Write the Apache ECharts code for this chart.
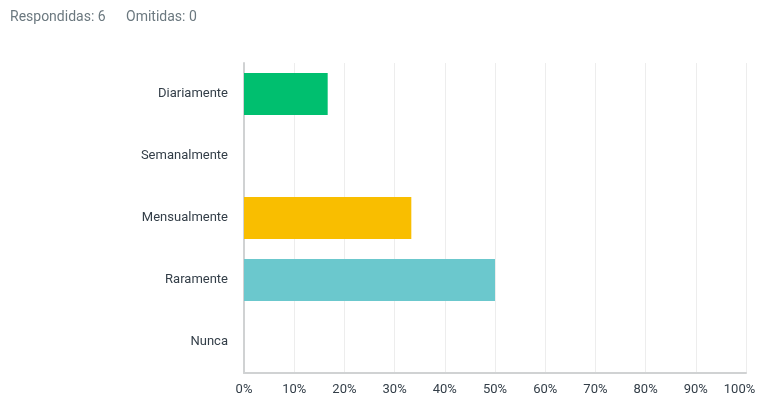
<!DOCTYPE html>
<html>
<head>
<meta charset="utf-8">
<script src="https://cdn.jsdelivr.net/npm/echarts@6/dist/echarts.min.js"></script>
<style>
html,body{margin:0;padding:0;background:#fff;}
#c{width:757px;height:396px;}
</style>
</head>
<body>
<div id="c"></div>
<script>
const categories = ['Diariamente', 'Semanalmente', 'Mensualmente', 'Raramente', 'Nunca'];
const values = [16.67, 0, 33.33, 50, 0];
const barColors = ['#00bf6f', '#00bf6f', '#f9be00', '#6bc8cd', '#6bc8cd'];
const answered = 'Respondidas: 6';
const skipped = 'Omitidas: 0';

const chart = echarts.init(document.getElementById('c'), null, {renderer: 'canvas'});
const font = 'Roboto, "Open Sans", sans-serif';
chart.setOption({
  animation: false,
  backgroundColor: '#fff',
  textStyle: {fontFamily: font},
  graphic: [
    {type: 'text', left: 10, top: 10, style: {text: answered, fill: '#6b787f', font: '14px ' + font}},
    {type: 'text', left: 126, top: 10, style: {text: skipped, fill: '#6b787f', font: '14px ' + font}}
  ],
  grid: {left: 244, right: 11, top: 63, bottom: 23, containLabel: false, outerBoundsMode: 'none'},
  xAxis: {
    type: 'value', min: 0, max: 100, interval: 10,
    axisLabel: {
      formatter: v => v === 100 ? '{m|' + v + '%}' : v + '%',
      color: '#333e48', fontSize: 13, margin: 10,
      rich: {m: {color: '#333e48', fontSize: 13, padding: [0, 13, 0, 0]}}
    },
    axisLine: {show: true, lineStyle: {color: '#d0d2d3', width: 2}},
    axisTick: {show: false},
    splitLine: {show: true, lineStyle: {color: '#ededed', width: 1}}
  },
  yAxis: {
    type: 'category', data: categories, inverse: true,
    axisLabel: {color: '#333e48', fontSize: 13, margin: 16},
    axisLine: {show: true, lineStyle: {color: '#d0d2d3', width: 2}},
    axisTick: {show: false},
    splitLine: {show: false}
  },
  series: [{
    type: 'bar',
    data: values.map((v, i) => ({value: v, itemStyle: {color: barColors[i]}})),
    barCategoryGap: '32%'
  }]
});
</script>
</body>
</html>
